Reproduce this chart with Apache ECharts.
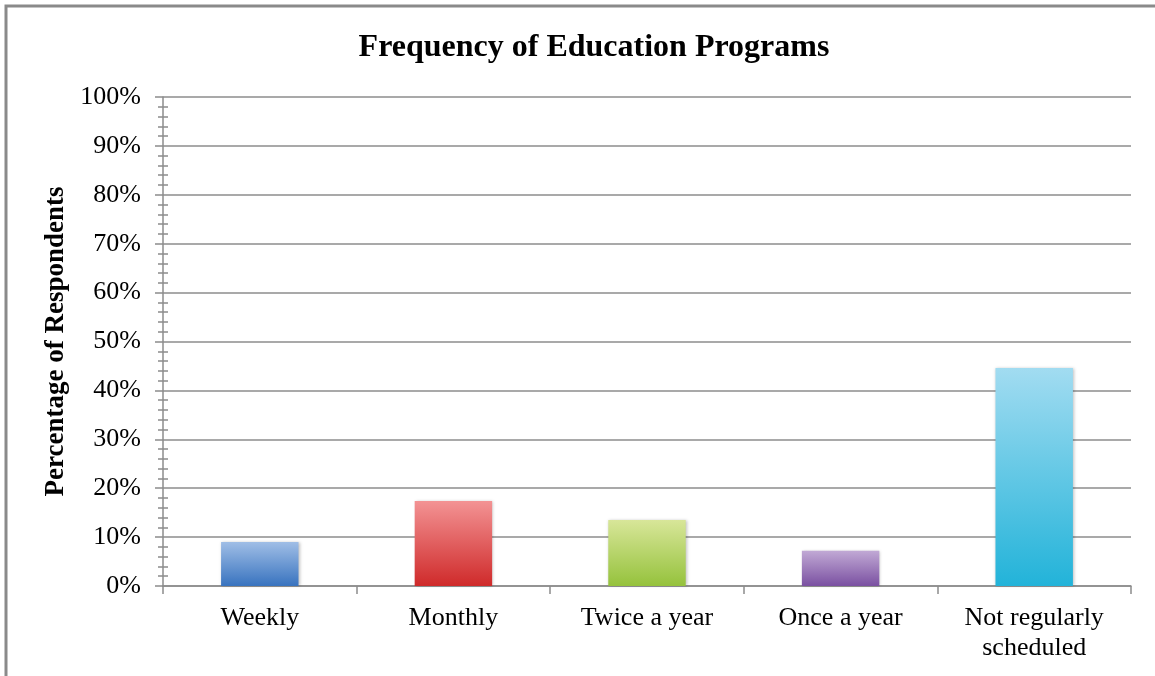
<!DOCTYPE html>
<html>
<head>
<meta charset="utf-8">
<script src="https://cdn.jsdelivr.net/npm/echarts@6/dist/echarts.min.js"></script>
<style>
html,body{margin:0;padding:0;background:#fff;}
#chart{width:1155px;height:676px;}
</style>
</head>
<body>
<div id="chart"></div>
<script>
const categories = ['Weekly', 'Monthly', 'Twice a year', 'Once a year', 'Not regularly\nscheduled'];
const values = [9.0, 17.4, 13.5, 7.2, 44.6];
const topColors = ['#A0BEE6', '#F39394', '#D8E699', '#C1A9D5', '#A2DCF1'];
const bottomColors = ['#3873BF', '#CF2A2A', '#95C23C', '#7A50A1', '#22B3D9'];
const yTicks = [0, 10, 20, 30, 40, 50, 60, 70, 80, 90, 100];

const font = 'Liberation Serif, Times New Roman, serif';
const chart = echarts.init(document.getElementById('chart'));

const data = values.map((v, i) => ({
  value: v,
  itemStyle: {
    color: new echarts.graphic.LinearGradient(0, 0, 0, 1, [
      { offset: 0, color: topColors[i] },
      { offset: 1, color: bottomColors[i] }
    ])
  }
}));

const baseY = {
  type: 'value',
  min: yTicks[0],
  max: yTicks[yTicks.length - 1],
  interval: 10,
  position: 'left'
};

chart.setOption({
  animation: false,
  graphic: [{
    type: 'rect',
    shape: { x: 6, y: 6, width: 1300, height: 800 },
    style: { fill: 'none', stroke: '#8a8a8a', lineWidth: 3 },
    silent: true
  }],
  title: {
    text: 'Frequency of Education Programs',
    left: 589,
    textAlign: 'center',
    top: 27,
    textStyle: { fontFamily: font, fontSize: 32, fontWeight: 'bold', color: '#000' }
  },
  grid: { left: 163, right: 24, top: 97, bottom: 90 },
  xAxis: {
    type: 'category',
    data: categories,
    axisLine: { lineStyle: { color: '#8c8c8c', width: 1.5 } },
    axisTick: { show: true, length: 8, alignWithLabel: false, lineStyle: { color: '#8c8c8c', width: 1.5 } },
    axisLabel: { fontFamily: font, fontSize: 26, color: '#000', margin: 17, lineHeight: 30, interval: 0 }
  },
  yAxis: [
    Object.assign({}, baseY, {
      name: 'Percentage of Respondents',
      nameLocation: 'middle',
      nameGap: 91,
      nameTextStyle: { fontFamily: font, fontSize: 27, fontWeight: 'bold', color: '#000' },
      axisLine: { show: true, lineStyle: { color: '#8c8c8c', width: 1.5 } },
      axisTick: { show: true, length: 8, lineStyle: { color: '#8c8c8c', width: 1.5 } },
      minorTick: { show: true, splitNumber: 5, length: 5, lineStyle: { color: '#8c8c8c', width: 1.5 } },
      splitLine: { show: true, lineStyle: { color: '#8c8c8c', width: 1.5 } },
      axisLabel: { fontFamily: font, fontSize: 26, color: '#000', margin: 22, formatter: '{value}%' }
    }),
    Object.assign({}, baseY, {
      axisLine: { show: false },
      axisTick: { show: false, inside: true },
      minorTick: { show: true, splitNumber: 5, length: 5, lineStyle: { color: '#8c8c8c', width: 1.5 } },
      splitLine: { show: false },
      axisLabel: { show: false }
    })
  ],
  series: [{
    type: 'bar',
    data: data,
    barWidth: '40%',
    itemStyle: { shadowBlur: 3, shadowColor: 'rgba(0,0,0,0.25)', shadowOffsetX: 1, shadowOffsetY: 0 }
  }]
});
</script>
</body>
</html>
